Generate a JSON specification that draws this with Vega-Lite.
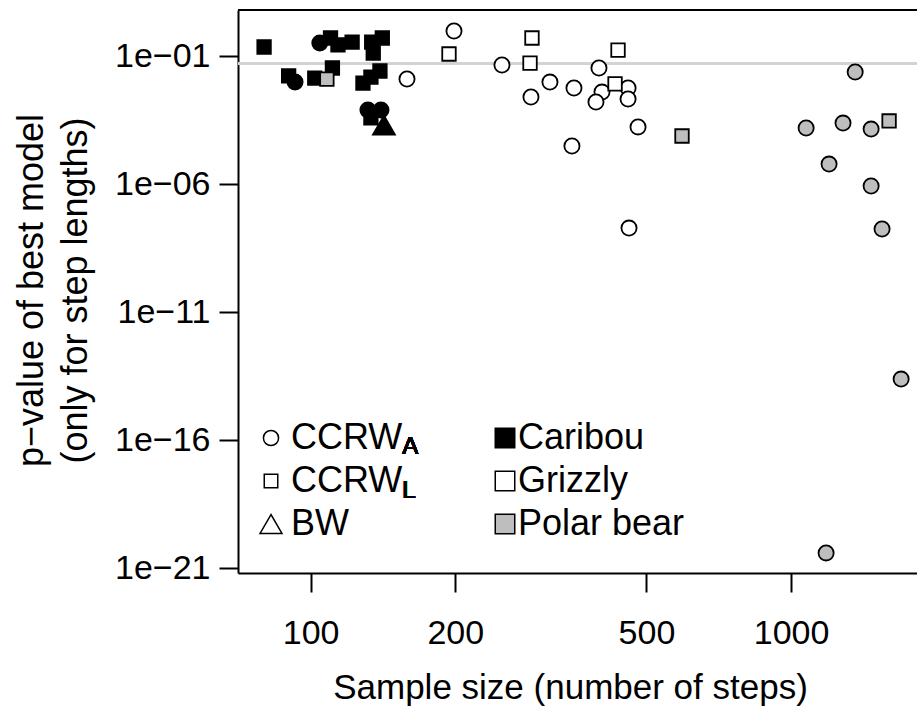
{
  "$schema": "https://vega.github.io/schema/vega-lite/v6.json",
  "autosize": "none",
  "width": 679,
  "height": 563,
  "padding": {"left": 238, "top": 10, "right": 0, "bottom": 138},
  "background": "white",
  "view": {"stroke": null},
  "config": {
    "font": "Liberation Sans",
    "axis": {
      "domainColor": "black", "domainWidth": 2, "tickColor": "black", "tickWidth": 2, "tickSize": 19,
      "labelFont": "Liberation Sans", "labelFontSize": 34, "labelColor": "black",
      "titleFont": "Liberation Sans", "titleFontSize": 35, "titleFontWeight": "normal", "titleColor": "black",
      "grid": false
    },
    "legend": {
      "labelFont": "Liberation Sans", "labelFontSize": 36, "labelColor": "black", "labelLimit": 400,
      "padding": 0, "rowPadding": 7, "symbolOffset": 0
    }
  },
  "data": {"values": [
    {"n": 80, "p": 0.225, "model": "CCRW_L", "species": "Caribou"},
    {"n": 90, "p": 0.0166, "model": "CCRW_L", "species": "Caribou"},
    {"n": 102, "p": 0.0138, "model": "CCRW_L", "species": "Caribou"},
    {"n": 111, "p": 0.034, "model": "CCRW_L", "species": "Caribou"},
    {"n": 110, "p": 0.505, "model": "CCRW_L", "species": "Caribou"},
    {"n": 114, "p": 0.27, "model": "CCRW_L", "species": "Caribou"},
    {"n": 122, "p": 0.352, "model": "CCRW_L", "species": "Caribou"},
    {"n": 134, "p": 0.352, "model": "CCRW_L", "species": "Caribou"},
    {"n": 141, "p": 0.505, "model": "CCRW_L", "species": "Caribou"},
    {"n": 135, "p": 0.131, "model": "CCRW_L", "species": "Caribou"},
    {"n": 128.5, "p": 0.0088, "model": "CCRW_L", "species": "Caribou"},
    {"n": 133.5, "p": 0.0151, "model": "CCRW_L", "species": "Caribou"},
    {"n": 139.4, "p": 0.026, "model": "CCRW_L", "species": "Caribou"},
    {"n": 133.5, "p": 0.00038, "model": "CCRW_L", "species": "Caribou"},
    {"n": 104.5, "p": 0.322, "model": "CCRW_A", "species": "Caribou"},
    {"n": 92.8, "p": 0.0096, "model": "CCRW_A", "species": "Caribou"},
    {"n": 131.6, "p": 0.00078, "model": "CCRW_A", "species": "Caribou"},
    {"n": 140.1, "p": 0.00078, "model": "CCRW_A", "species": "Caribou"},
    {"n": 142.1, "p": 0.0002, "model": "BW", "species": "Caribou"},
    {"n": 108.1, "p": 0.0126, "model": "CCRW_L", "species": "Polar bear"},
    {"n": 198.8, "p": 0.948, "model": "CCRW_A", "species": "Grizzly"},
    {"n": 158.7, "p": 0.0126, "model": "CCRW_A", "species": "Grizzly"},
    {"n": 250.2, "p": 0.0445, "model": "CCRW_A", "species": "Grizzly"},
    {"n": 287.5, "p": 0.0025, "model": "CCRW_A", "species": "Grizzly"},
    {"n": 314.9, "p": 0.0096, "model": "CCRW_A", "species": "Grizzly"},
    {"n": 353.3, "p": 0.0056, "model": "CCRW_A", "species": "Grizzly"},
    {"n": 398.3, "p": 0.034, "model": "CCRW_A", "species": "Grizzly"},
    {"n": 404.1, "p": 0.0039, "model": "CCRW_A", "species": "Grizzly"},
    {"n": 392.6, "p": 0.0016, "model": "CCRW_A", "species": "Grizzly"},
    {"n": 457.9, "p": 0.0056, "model": "CCRW_A", "species": "Grizzly"},
    {"n": 457.9, "p": 0.0021, "model": "CCRW_A", "species": "Grizzly"},
    {"n": 480.3, "p": 0.00017, "model": "CCRW_A", "species": "Grizzly"},
    {"n": 349.9, "p": 0.0000305, "model": "CCRW_A", "species": "Grizzly"},
    {"n": 460, "p": 1.9e-8, "model": "CCRW_A", "species": "Grizzly"},
    {"n": 194.1, "p": 0.12, "model": "CCRW_L", "species": "Grizzly"},
    {"n": 288.9, "p": 0.505, "model": "CCRW_L", "species": "Grizzly"},
    {"n": 286.2, "p": 0.053, "model": "CCRW_L", "species": "Grizzly"},
    {"n": 436.4, "p": 0.171, "model": "CCRW_L", "species": "Grizzly"},
    {"n": 430.2, "p": 0.0081, "model": "CCRW_L", "species": "Grizzly"},
    {"n": 593, "p": 0.000075, "model": "CCRW_L", "species": "Polar bear"},
    {"n": 1600, "p": 0.00029, "model": "CCRW_L", "species": "Polar bear"},
    {"n": 1360, "p": 0.0237, "model": "CCRW_A", "species": "Polar bear"},
    {"n": 1075, "p": 0.000154, "model": "CCRW_A", "species": "Polar bear"},
    {"n": 1283, "p": 0.00024, "model": "CCRW_A", "species": "Polar bear"},
    {"n": 1468, "p": 0.00014, "model": "CCRW_A", "species": "Polar bear"},
    {"n": 1200, "p": 0.000006, "model": "CCRW_A", "species": "Polar bear"},
    {"n": 1468, "p": 8.4e-7, "model": "CCRW_A", "species": "Polar bear"},
    {"n": 1547, "p": 1.75e-8, "model": "CCRW_A", "species": "Polar bear"},
    {"n": 1695, "p": 2.4e-14, "model": "CCRW_A", "species": "Polar bear"},
    {"n": 1183, "p": 3.9e-21, "model": "CCRW_A", "species": "Polar bear"}
  ]},
  "encoding": {
    "x": {"field": "n", "type": "quantitative",
      "scale": {"type": "log", "domain": [70.6, 1829], "nice": false},
      "axis": {"values": [100, 200, 500, 1000], "format": "d", "title": "Sample size (number of steps)", "labelPadding": 24, "titlePadding": 20, "titleX": 332}},
    "y": {"field": "p", "type": "quantitative",
      "scale": {"type": "log", "domain": [6.4e-22, 6.27], "nice": false},
      "axis": {"values": [1e-1, 1e-6, 1e-11, 1e-16, 1e-21],
        "labelExpr": "'1e\u2212' + (abs(round(log(datum.value)/LN10)) < 10 ? '0' : '') + abs(round(log(datum.value)/LN10))",
        "labelPadding": 9,
        "title": ["p\u2212value of best model", "(only for step lengths)"],
        "titleFontSize": 36,
        "titleLineHeight": 44, "titleAngle": -90, "titleAlign": "center", "titleBaseline": "alphabetic",
        "titleX": -196, "titleY": 280}}
  },
  "layer": [
    {"mark": {"type": "rule", "color": "#D3D3D3", "strokeWidth": 2},
     "encoding": {"x": null, "y": {"datum": 0.05, "type": "quantitative"}}},
    {"mark": {"type": "rule", "color": "black", "strokeWidth": 2},
     "encoding": {"x": null, "y": {"datum": 6.27, "type": "quantitative"}}},
    {"mark": {"type": "point", "filled": true, "stroke": "black", "strokeWidth": 1.8, "opacity": 1},
     "encoding": {
       "shape": {"field": "model", "type": "nominal",
         "scale": {"domain": ["CCRW_A", "CCRW_L", "BW"], "range": ["circle", "square", "triangle-up"]},
         "legend": {"title": null, "orient": "none", "legendX": 15, "legendY": 410, "labelOffset": 2,
           "labelExpr": "datum.label == 'BW' ? 'BW' : 'CCRW'",
           "symbolFillColor": "white", "symbolStrokeColor": "black", "symbolStrokeWidth": 1.5}},
       "size": {"field": "model", "type": "nominal",
         "scale": {"type": "ordinal", "domain": ["CCRW_A", "CCRW_L", "BW"], "range": [230, 182, 480]},
         "legend": {"title": null, "orient": "none", "legendX": 15, "legendY": 410, "labelOffset": 2,
           "labelExpr": "datum.label == 'BW' ? 'BW' : 'CCRW'",
           "symbolFillColor": "white", "symbolStrokeColor": "black", "symbolStrokeWidth": 1.5}},
       "fill": {"field": "species", "type": "nominal",
         "scale": {"domain": ["Caribou", "Grizzly", "Polar bear"], "range": ["black", "white", "#BEBEBE"]},
         "legend": {"title": null, "orient": "none", "legendX": 249, "legendY": 410, "labelOffset": -5,
           "symbolType": "square", "symbolSize": 380, "symbolStrokeColor": "black", "symbolStrokeWidth": 1.5,
           "encode": {"symbols": {"shape": {"value": "square"}, "stroke": {"value": "black"}, "strokeWidth": {"value": 1.5}, "opacity": {"value": 1}, "size": {"value": 380}}}}}
     }},
    {"mark": {"type": "text", "align": "left", "baseline": "middle", "fontSize": 24, "font": "Liberation Sans", "fill": "black", "color": "black", "opacity": 1},
     "encoding": {"x": {"datum": 155.2, "type": "quantitative"}, "y": {"datum": 5.3e-17, "type": "quantitative"}, "text": {"value": "A"}}},
    {"mark": {"type": "text", "align": "left", "baseline": "middle", "fontSize": 24, "font": "Liberation Sans", "fill": "black", "color": "black", "opacity": 1},
     "encoding": {"x": {"datum": 155.2, "type": "quantitative"}, "y": {"datum": 1.02e-18, "type": "quantitative"}, "text": {"value": "L"}}}
  ]
}
